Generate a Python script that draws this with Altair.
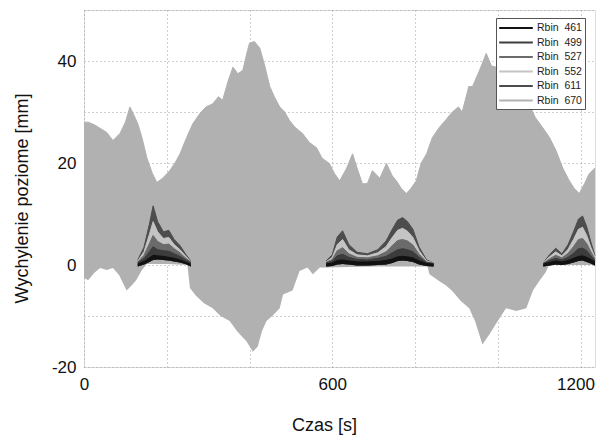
import altair as alt
import pandas as pd

# ---- Rbin 670 (large oscillation) envelope ----
t_up670 = [0, 10, 25, 39, 55, 70, 87, 100, 111, 120, 130, 140, 152, 165, 176, 190, 207, 220, 232, 248,
           263, 280, 295, 311, 325, 335, 348, 360, 372, 384, 395, 400, 412, 425, 437, 449, 460, 473, 485,
           497, 510, 528, 545, 562, 575, 593, 605, 618, 635, 649, 660, 673, 685, 697, 715, 731, 745, 755,
           767, 779, 790, 803, 815, 828, 842, 859, 875, 890, 905, 914, 930, 939, 955, 965, 972, 985, 996,
           1010, 1028, 1050, 1076, 1090, 1108, 1125, 1141, 1157, 1173, 1185, 1197, 1210, 1221, 1235]
up670 = [28, 28, 27.5, 26.8, 26, 24.4, 25.8, 28, 31, 29.5, 27.7, 25, 21, 18, 16.2, 17, 18.5, 20, 21.8, 25,
         27.7, 29.7, 31, 31.6, 33, 32.3, 36, 38.8, 37.5, 38.2, 42, 43.5, 43.8, 42.5, 39, 35, 33, 31, 30,
         28.3, 27, 25.8, 24, 23, 21, 19.9, 18, 16.5, 19, 21.8, 19, 15.9, 16, 18.5, 17, 19.9, 17.5, 16.5,
         15, 14, 15, 16.5, 20, 21.8, 25, 27, 28.5, 30, 31, 30, 35, 35, 38, 40, 41.5, 39, 38.8,
         36, 34, 33, 31.6, 29, 27, 25, 22.4, 19, 16.5, 15, 14, 16, 17.9, 19]
t_lo670 = [0, 10, 25, 39, 55, 70, 85, 103, 115, 126, 140, 152, 200, 250, 256, 270, 290, 311, 330, 352,
           370, 393, 408, 420, 430, 441, 455, 473, 481, 504, 521, 540, 553, 570, 586, 700, 830, 835, 859,
           875, 890, 910, 931, 945, 963, 980, 1000, 1020, 1045, 1069, 1085, 1100, 1115, 1124, 1235]
lo670 = [-2.5, -3, -1.5, -0.6, -1, -0.6, -2, -5, -4, -3, -1, 0.2, 0.2, 0, -4.5, -6, -7.5, -8.5, -10, -11,
         -13, -15, -17, -16, -13, -11, -10, -8.5, -5.8, -5, -1.2, -0.5, -1.8, -0.5, -0.5, -0.3, -0.3, -1.8, -3.2,
         -4, -5.1, -7, -8.5, -11, -15.6, -13.6, -11, -8.5, -9, -8.5, -5, -3.2, -1.5, 0, 0]

# ---- smaller series (upper envelopes on a shared time grid, three visible segments) ----
dark_t = [130, 145, 158, 167, 178, 192, 205, 218, 232, 245, 258,
          585, 600, 612, 625, 640, 660, 685, 710, 730, 745, 758, 770, 782, 795, 810, 828, 845,
          1110, 1125, 1140, 1155, 1170, 1183, 1195, 1205, 1215, 1225, 1235]
dark_seg = [1] * 11 + [2] * 17 + [3] * 11
s611 = [1.0, 3.5, 8.0, 11.6, 8.5, 6.5, 6.8, 5.0, 3.8, 2.2, 0.8,
        0.8, 2.0, 5.5, 6.7, 4.0, 2.5, 2.2, 3.0, 4.7, 7.0, 8.8, 9.3, 8.5, 7.0, 3.5, 1.0, 0.4,
        0.4, 2.0, 3.3, 2.2, 4.0, 6.5, 9.0, 9.6, 7.5, 4.5, 1.8]
s552 = [0.8, 2.6, 6.0, 8.5, 6.5, 5.2, 5.4, 4.0, 3.0, 1.8, 0.7,
        0.6, 1.5, 4.0, 5.0, 3.0, 2.0, 1.8, 2.4, 3.6, 5.4, 6.8, 7.2, 6.6, 5.4, 2.8, 0.8, 0.4,
        0.4, 1.6, 2.6, 1.8, 3.1, 5.0, 7.0, 7.4, 5.8, 3.5, 1.5]
s527 = [0.6, 1.9, 4.2, 5.8, 4.6, 4.0, 4.1, 3.2, 2.4, 1.4, 0.6,
        0.5, 1.1, 2.8, 3.4, 2.2, 1.5, 1.4, 1.8, 2.6, 3.8, 4.8, 5.0, 4.7, 3.9, 2.1, 0.6, 0.3,
        0.3, 1.2, 1.9, 1.4, 2.3, 3.6, 5.0, 5.2, 4.2, 2.6, 1.2]
s499 = [0.5, 1.3, 2.6, 3.6, 3.0, 2.8, 2.7, 2.2, 1.7, 1.1, 0.5,
        0.4, 0.8, 1.8, 2.1, 1.5, 1.1, 1.0, 1.3, 1.7, 2.4, 3.0, 3.2, 3.0, 2.6, 1.5, 0.5, 0.3,
        0.3, 0.9, 1.3, 1.0, 1.5, 2.3, 3.2, 3.3, 2.8, 1.8, 0.9]
s461 = [0.2, 0.7, 1.4, 1.9, 1.8, 1.7, 1.5, 1.3, 1.0, 0.6, 0.2,
        0.2, 0.4, 0.9, 1.0, 0.8, 0.6, 0.6, 0.7, 0.9, 1.2, 1.6, 1.7, 1.6, 1.4, 0.8, 0.3, 0.2,
        0.2, 0.5, 0.8, 0.6, 0.9, 1.3, 1.7, 1.8, 1.5, 1.1, 0.6]
dark_lo = [-0.3, 0.1, 0.6, 1.0, 1.1, 1.0, 0.9, 0.7, 0.5, 0.2, -0.3,
           -0.3, -0.2, 0.1, 0.2, 0.1, -0.1, -0.1, 0.0, 0.1, 0.4, 0.8, 0.9, 0.8, 0.6, 0.1, -0.2, -0.3,
           -0.3, -0.1, 0.1, 0.0, 0.2, 0.5, 0.8, 0.9, 0.6, 0.3, -0.1]

NB = "\u00a0"
names = [f"Rbin{NB}{NB}461", f"Rbin{NB}{NB}499", f"Rbin{NB}{NB}527",
         f"Rbin{NB}{NB}552", f"Rbin{NB}{NB}611", f"Rbin{NB}{NB}670"]
colors = ["#121212", "#3c3c3c", "#6b6b6b", "#c4c4c4", "#4d4d4d", "#b1b1b1"]

FONT = "Liberation Sans"

x_scale = alt.Scale(domain=[0, 1235], nice=False, zero=False)
y_scale = alt.Scale(domain=[-20, 50], nice=False, zero=False)
color_scale = alt.Scale(domain=names, range=colors)

xax = alt.Axis(values=list(range(0, 1201, 200)),
               labelExpr="datum.value % 600 == 0 ? '' + datum.value : ''",
               labelOffset={"condition": {"test": "datum.value == 1200", "value": -5}, "value": 0},
               grid=True, gridDash=[1, 3], gridColor="#a0a0a0", gridWidth=1,
               ticks=False, domain=False, labelFlush=False,
               labelFont=FONT, labelFontSize=17, labelColor="#111", labelPadding=9,
               title="Czas [s]", titleFont=FONT, titleFontSize=18, titleFontWeight="normal",
               titleColor="#111", titleX=240, titleY=58, titleBaseline="middle")
yax = alt.Axis(values=list(range(-20, 51, 10)),
               labelExpr="datum.value % 20 == 0 ? '' + datum.value : ''",
               grid=True, gridDash=[1, 3], gridColor="#a0a0a0", gridWidth=1,
               ticks=False, domain=False,
               labelFont=FONT, labelFontSize=17, labelColor="#111", labelPadding=8,
               title="Wychylenie poziome [mm]", titleFont=FONT, titleFontSize=18,
               titleFontWeight="normal", titleColor="#111", titleX=-62, titleY=188,
               titleBaseline="middle", titleAngle=-90)

X = alt.X("t:Q", scale=x_scale, axis=xax)
Y = alt.Y("v:Q", scale=y_scale, axis=yax)

up_df = pd.DataFrame({"t": t_up670, "v": up670})
lo_df = pd.DataFrame({"t": t_lo670, "v": lo670})

layers = [
    alt.Chart(up_df).mark_area(color=colors[5]).encode(x=X, y=Y, y2=alt.datum(2)),
    alt.Chart(lo_df).mark_area(color=colors[5]).encode(x=X, y=Y, y2=alt.datum(8)),
]

dark_vals = {names[4]: s611, names[3]: s552, names[2]: s527, names[1]: s499, names[0]: s461}
draw_order = [names[4], names[3], names[2], names[1], names[0]]
for nm in draw_order:
    df = pd.DataFrame({"t": dark_t, "v": dark_vals[nm], "lo": dark_lo, "seg": dark_seg})
    layers.append(
        alt.Chart(df).mark_area(color=colors[names.index(nm)]).encode(
            x=X, y=Y, y2="lo:Q", detail="seg:N")
    )

# edge lines (also provide the legend)
line_rows = []
for t, v in zip(t_up670, up670):
    line_rows.append({"t": t, "v": v, "s": names[5], "seg": 0})
for nm in draw_order:
    for t, v, sg in zip(dark_t, dark_vals[nm], dark_seg):
        line_rows.append({"t": t, "v": v, "s": nm, "seg": sg})
line_df = pd.DataFrame(line_rows)

legend = alt.Legend(orient="none", legendX=412, legendY=8, title=None,
                    symbolType="M -2.8 0 L 2.8 0", symbolSize=144, symbolStrokeWidth=2,
                    symbolOffset=10, labelOffset=14,
                    labelFont=FONT, labelFontSize=10.5, labelColor="#222",
                    padding=3, rowPadding=1.5, strokeColor="#555", fillColor="white",
                    cornerRadius=0)

layers.append(
    alt.Chart(line_df).mark_line(strokeWidth=1).encode(
        x=X, y=Y,
        color=alt.Color("s:N", scale=color_scale, legend=legend),
        detail="seg:N",
        order=alt.Order("t:Q"),
    )
)

chart = alt.layer(*layers).properties(
    width=511, height=357,
    autosize=alt.AutoSizeParams(type="none"),
    padding={"left": 84, "top": 10, "right": 3, "bottom": 69},
).configure_view(stroke="#8c8c8c", strokeWidth=1).configure(background="white")

chart.save("out.html", embed_options={"renderer": "svg", "actions": False})
